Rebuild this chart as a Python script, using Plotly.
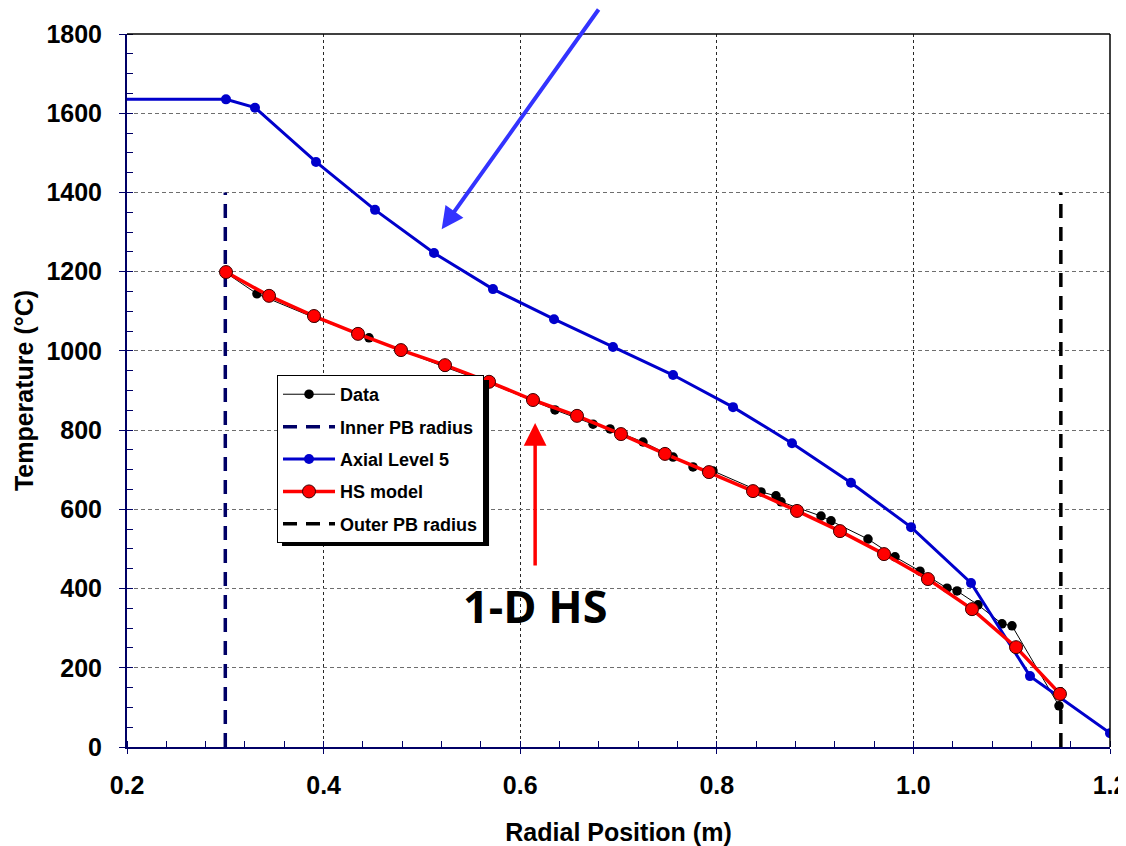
import plotly.graph_objects as go

# ---------------- data ----------------
data_x = [0.3007, 0.3322, 0.3913, 0.4462, 0.5235, 0.5683, 0.6130, 0.6354, 0.6741, 0.6914,
          0.7249, 0.7555, 0.7758, 0.7961, 0.8450, 0.8602, 0.8653, 0.9060, 0.9162, 0.9538,
          0.9813, 1.0067, 1.0342, 1.0444, 1.0657, 1.0901, 1.1003, 1.1481]
data_y = [1197, 1144, 1083, 1033, 959, 919, 874, 851, 815, 803,
          770, 732, 707, 697, 644, 634, 619, 583, 571, 525,
          480, 444, 401, 394, 359, 311, 306, 104]

hs_x = [0.3007, 0.3445, 0.3902, 0.4350, 0.4787, 0.5235, 0.5683, 0.6130, 0.6578, 0.7025,
        0.7473, 0.7920, 0.8368, 0.8816, 0.9253, 0.9701, 1.0148, 1.0596, 1.1044, 1.1491]
hs_y = [1199, 1139, 1088, 1043, 1002, 964, 922, 876, 836, 790,
        740, 694, 646, 596, 545, 487, 424, 348, 252, 134]

axial_x = [0.0, 0.3007, 0.3302, 0.3923, 0.4523, 0.5123, 0.5723, 0.6344, 0.6944, 0.7555,
           0.8165, 0.8765, 0.9365, 0.9976, 1.0586, 1.1186, 1.2000]
axial_y = [1636, 1635, 1614, 1477, 1356, 1247, 1156, 1080, 1010, 939,
           858, 767, 667, 555, 414, 179, 35]

inner_x = [0.30, 0.30]
inner_y = [0, 1400]
outer_x = [1.15, 1.15]
outer_y = [0, 1400]

x_ticks = [0.2, 0.4, 0.6, 0.8, 1.0, 1.2]
x_ticktext = ["0.2", "0.4", "0.6", "0.8", "1.0", "1.2"]
y_ticks = [0, 200, 400, 600, 800, 1000, 1200, 1400, 1600, 1800]

NAVY = "rgb(0,0,102)"
BLUE = "rgb(0,0,204)"
FONT = "Liberation Sans, Arial, sans-serif"

fig = go.Figure()

fig.add_trace(go.Scatter(
    x=data_x, y=data_y, name="Data", mode="lines+markers",
    line=dict(color="black", width=1),
    marker=dict(color="black", size=9.5),
    legendgroup="g1", legendrank=1))

fig.add_trace(go.Scatter(
    x=inner_x, y=inner_y, name="Inner PB radius", mode="lines",
    line=dict(color=NAVY, width=3.5, dash="14px,9px"),
    legendgroup="g2", legendrank=2))

fig.add_trace(go.Scatter(
    x=axial_x, y=axial_y, name="Axial Level 5", mode="lines+markers",
    line=dict(color=BLUE, width=3),
    marker=dict(color=BLUE, size=10),
    legendgroup="g3", legendrank=3))

fig.add_trace(go.Scatter(
    x=outer_x, y=outer_y, name="Outer PB radius", mode="lines",
    line=dict(color="black", width=3.5, dash="14px,9px"),
    legendgroup="g5", legendrank=5))

fig.add_trace(go.Scatter(
    x=hs_x, y=hs_y, name="HS model", mode="lines+markers",
    line=dict(color="red", width=3.5),
    marker=dict(color="red", size=13, line=dict(color="rgb(60,0,0)", width=1)),
    legendgroup="g4", legendrank=4))

# page has an 8px body margin; plot area lands at x 127..1110, y 34..747
fig.update_layout(
    width=1118, height=838,
    margin=dict(l=119, r=16, t=26, b=99, autoexpand=False),
    paper_bgcolor="white", plot_bgcolor="white",
    font=dict(family=FONT, color="black"),
    showlegend=True,
    legend=dict(
        x=0.1526, y=0.5217, xanchor="left", yanchor="top",
        bgcolor="white", bordercolor="black", borderwidth=1,
        font=dict(family=FONT, size=18, color="black", weight="bold"),
        itemwidth=52, tracegroupgap=6, traceorder="grouped",
    ),
    xaxis=dict(
        range=[0.2, 1.2], tickvals=x_ticks, ticktext=x_ticktext,
        showline=True, linecolor=NAVY, linewidth=2,
        ticks="outside", ticklen=5, tickcolor=NAVY, tickwidth=1,
        ticklabelstandoff=10, ticklabeloverflow="allow",
        minor=dict(dtick=0.04, tick0=0.2, ticks="inside", ticklen=6, tickcolor=NAVY, showgrid=False),
        showgrid=True, gridcolor="rgb(40,40,40)", gridwidth=1, griddash="3px,3px",
        zeroline=False,
        tickfont=dict(family=FONT, size=25, weight="bold"),
        title=dict(text="Radial Position (m)", font=dict(family=FONT, size=25, weight="bold"), standoff=30),
    ),
    yaxis=dict(
        range=[0, 1800], tickvals=y_ticks,
        showline=True, linecolor=NAVY, linewidth=2,
        ticks="outside", ticklen=6, tickcolor=NAVY, tickwidth=1,
        ticklabelstandoff=12,
        minor=dict(dtick=50, tick0=0, ticks="inside", ticklen=6, tickcolor=NAVY, showgrid=False),
        showgrid=True, gridcolor="rgb(110,110,110)", gridwidth=1.2, griddash="4px,3px",
        zeroline=False,
        tickfont=dict(family=FONT, size=25, weight="bold"),
        title=dict(text="Temperature (°C)", font=dict(family=FONT, size=25, weight="bold"), standoff=6),
    ),
)

# top/right frame lines and legend shadow
fig.add_shape(type="line", xref="paper", yref="paper", x0=0, x1=1, y0=1, y1=1,
              line=dict(color="black", width=1.5), layer="above")
fig.add_shape(type="line", xref="paper", yref="paper", x0=1, x1=1, y0=0, y1=1,
              line=dict(color="black", width=1.5), layer="above")
fig.add_shape(type="rect", xref="paper", yref="paper",
              x0=0.1577, x1=0.3683, y0=0.2819, y1=0.5147,
              fillcolor="black", line=dict(width=0), layer="above")

# annotations
fig.add_annotation(x=0.615, y=358, xref="x", yref="y", text="<b>1-D HS</b>",
                   showarrow=False, xanchor="center", yanchor="middle",
                   font=dict(family="Open Sans, sans-serif", size=45, color="black"))
fig.add_annotation(x=0.6152, y=818, xref="x", yref="y", text="",
                   showarrow=True, ax=0, ay=144, axref="pixel", ayref="pixel",
                   arrowcolor="red", arrowwidth=3.5, arrowhead=2, arrowsize=1.3, standoff=0)
fig.add_annotation(x=0.5201, y=1307, xref="x", yref="y", text="",
                   showarrow=True, ax=158, ay=-222, axref="pixel", ayref="pixel",
                   arrowcolor="rgb(51,51,255)", arrowwidth=4, arrowhead=2, arrowsize=1.1, standoff=0)

fig.write_html("out.html")
